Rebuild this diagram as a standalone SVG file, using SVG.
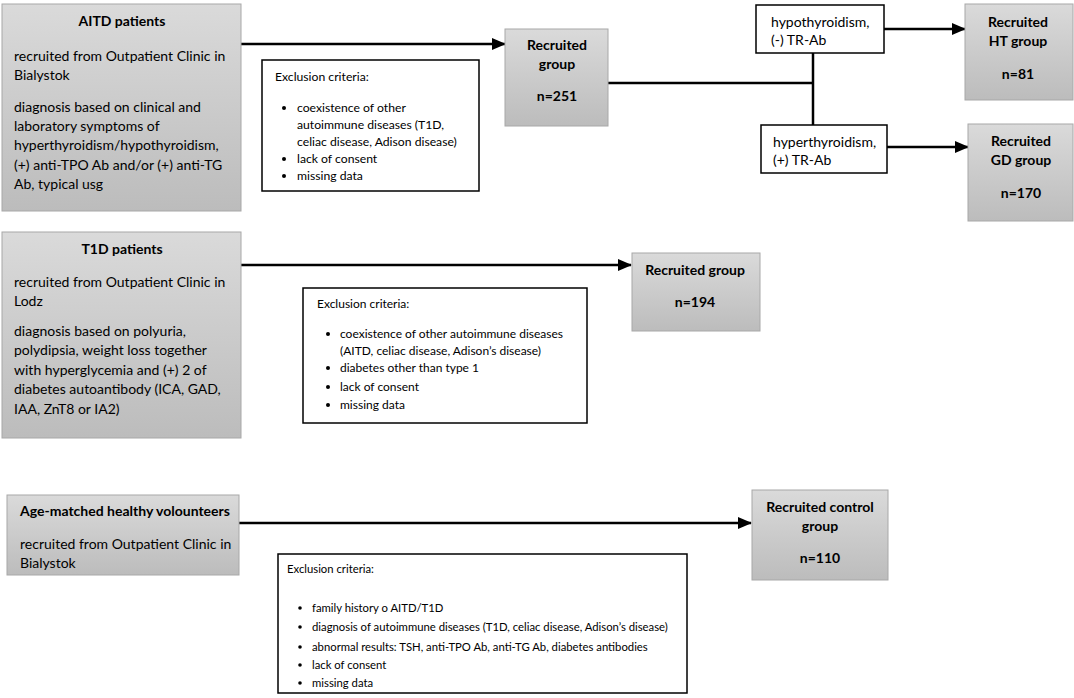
<svg xmlns="http://www.w3.org/2000/svg" width="1074" height="698" viewBox="0 0 1074 698">
<defs>
<linearGradient id="g" x1="0" y1="0" x2="0" y2="1">
<stop offset="0" stop-color="#dadada"/>
<stop offset="1" stop-color="#bcbcbc"/>
</linearGradient>
<marker id="ah" markerUnits="userSpaceOnUse" markerWidth="14" markerHeight="12" refX="13" refY="6" orient="auto">
<path d="M0,0 L14,6 L0,12 Z" fill="#000"/>
</marker>
<style>
.gb{fill:url(#g);stroke:#a8a8a8;stroke-width:1}
.wb{fill:#fff;stroke:#000;stroke-width:1.5}
text{font-family:Lato,"Liberation Sans",sans-serif;fill:#000}
.t{font-size:14px}
.b{font-size:14px;font-weight:bold}
.s{font-size:12.2px}
.s2{font-size:12px}
.s3{font-size:11.3px}
.c{text-anchor:middle}
.ln{stroke:#000;stroke-width:2.5;fill:none}
</style>
</defs>
<g id="connectors">
<line class="ln" x1="241" y1="44" x2="505" y2="44" marker-end="url(#ah)"/>
<polyline class="ln" points="608,83 813,83"/>
<line class="ln" x1="813" y1="53" x2="813" y2="125"/>
<line class="ln" x1="884" y1="29" x2="965" y2="29" marker-end="url(#ah)"/>
<line class="ln" x1="887" y1="147" x2="968" y2="147" marker-end="url(#ah)"/>
<line class="ln" x1="241" y1="265" x2="631" y2="265" marker-end="url(#ah)"/>
<line class="ln" x1="239" y1="523" x2="751" y2="523" marker-end="url(#ah)"/>
</g>
<g id="aitd">
<rect class="gb" x="2" y="4" width="239" height="207"/>
<text class="b c" x="122" y="26">AITD patients</text>
<text class="t" x="14" y="61">recruited from Outpatient Clinic in</text>
<text class="t" x="14" y="80">Bialystok</text>
<text class="t" x="14" y="112">diagnosis based on clinical and</text>
<text class="t" x="14" y="131">laboratory symptoms of</text>
<text class="t" x="14" y="150">hyperthyroidism/hypothyroidism,</text>
<text class="t" x="14" y="170">(+) anti-TPO Ab and/or (+) anti-TG</text>
<text class="t" x="14" y="189">Ab, typical usg</text>
</g>
<g id="excl1">
<rect class="wb" x="262" y="60" width="217" height="131"/>
<text class="s" x="275" y="81">Exclusion criteria:</text>
<circle cx="284" cy="108" r="2"/><text class="s" x="297" y="112">coexistence of other</text>
<text class="s" x="297" y="129">autoimmune diseases (T1D,</text>
<text class="s" x="297" y="146">celiac disease, Adison disease)</text>
<circle cx="284" cy="159" r="2"/><text class="s" x="297" y="163">lack of consent</text>
<circle cx="284" cy="176" r="2"/><text class="s" x="297" y="180">missing data</text>
</g>
<g id="rec1">
<rect class="gb" x="505" y="29" width="103" height="97"/>
<text class="b c" x="557" y="50">Recruited</text>
<text class="b c" x="557" y="69">group</text>
<text class="b c" x="557" y="101">n=251</text>
</g>
<g id="hypo">
<rect class="wb" x="756" y="5" width="128" height="48"/>
<text class="t" x="771" y="27">hypothyroidism,</text>
<text class="t" x="771" y="45">(-) TR-Ab</text>
</g>
<g id="hyper">
<rect class="wb" x="761" y="125" width="126" height="48"/>
<text class="t" x="773" y="147">hyperthyroidism,</text>
<text class="t" x="773" y="165">(+) TR-Ab</text>
</g>
<g id="ht">
<rect class="gb" x="965" y="4" width="108" height="96"/>
<text class="b c" x="1018" y="27">Recruited</text>
<text class="b c" x="1018" y="46">HT group</text>
<text class="b c" x="1018" y="79">n=81</text>
</g>
<g id="gd">
<rect class="gb" x="968" y="124" width="105" height="97"/>
<text class="b c" x="1021" y="146">Recruited</text>
<text class="b c" x="1021" y="165">GD group</text>
<text class="b c" x="1021" y="198">n=170</text>
</g>
<g id="t1d">
<rect class="gb" x="2" y="232" width="239" height="206"/>
<text class="b c" x="122" y="254">T1D patients</text>
<text class="t" x="14" y="287">recruited from Outpatient Clinic in</text>
<text class="t" x="14" y="306">Lodz</text>
<text class="t" x="14" y="336">diagnosis based on polyuria,</text>
<text class="t" x="14" y="355">polydipsia, weight loss together</text>
<text class="t" x="14" y="375">with hyperglycemia and (+) 2 of</text>
<text class="t" x="14" y="394">diabetes autoantibody (ICA, GAD,</text>
<text class="t" x="14" y="414">IAA, ZnT8 or IA2)</text>
</g>
<g id="excl2">
<rect class="wb" x="303" y="288" width="284" height="135"/>
<text class="s2" x="317" y="308">Exclusion criteria:</text>
<circle cx="328" cy="334" r="2"/><text class="s2" x="340" y="338">coexistence of other autoimmune diseases</text>
<text class="s2" x="340" y="355">(AITD, celiac disease, Adison’s disease)</text>
<circle cx="328" cy="368" r="2"/><text class="s2" x="340" y="372">diabetes other than type 1</text>
<circle cx="328" cy="387" r="2"/><text class="s2" x="340" y="391">lack of consent</text>
<circle cx="328" cy="405" r="2"/><text class="s2" x="340" y="409">missing data</text>
</g>
<g id="rec2">
<rect class="gb" x="632" y="253" width="128" height="78"/>
<text class="b c" x="695" y="275">Recruited group</text>
<text class="b c" x="695" y="307">n=194</text>
</g>
<g id="healthy">
<rect class="gb" x="7" y="495" width="232" height="80"/>
<text class="b" x="20" y="516">Age-matched healthy volounteers</text>
<text class="t" x="20" y="549">recruited from Outpatient Clinic in</text>
<text class="t" x="20" y="568">Bialystok</text>
</g>
<g id="excl3">
<rect class="wb" x="278" y="554" width="409" height="139"/>
<text class="s3" x="287" y="573">Exclusion criteria:</text>
<circle cx="300" cy="608" r="1.8"/><text class="s3" x="312" y="612">family history o AITD/T1D</text>
<circle cx="300" cy="627" r="1.8"/><text class="s3" x="312" y="631">diagnosis of autoimmune diseases (T1D, celiac disease, Adison’s disease)</text>
<circle cx="300" cy="647" r="1.8"/><text class="s3" x="312" y="651">abnormal results: TSH, anti-TPO Ab, anti-TG Ab, diabetes antibodies</text>
<circle cx="300" cy="665" r="1.8"/><text class="s3" x="312" y="669">lack of consent</text>
<circle cx="300" cy="683" r="1.8"/><text class="s3" x="312" y="687">missing data</text>
</g>
<g id="rec3">
<rect class="gb" x="752" y="490" width="136" height="90"/>
<text class="b c" x="820" y="512">Recruited control</text>
<text class="b c" x="820" y="531">group</text>
<text class="b c" x="820" y="563">n=110</text>
</g>
</svg>
